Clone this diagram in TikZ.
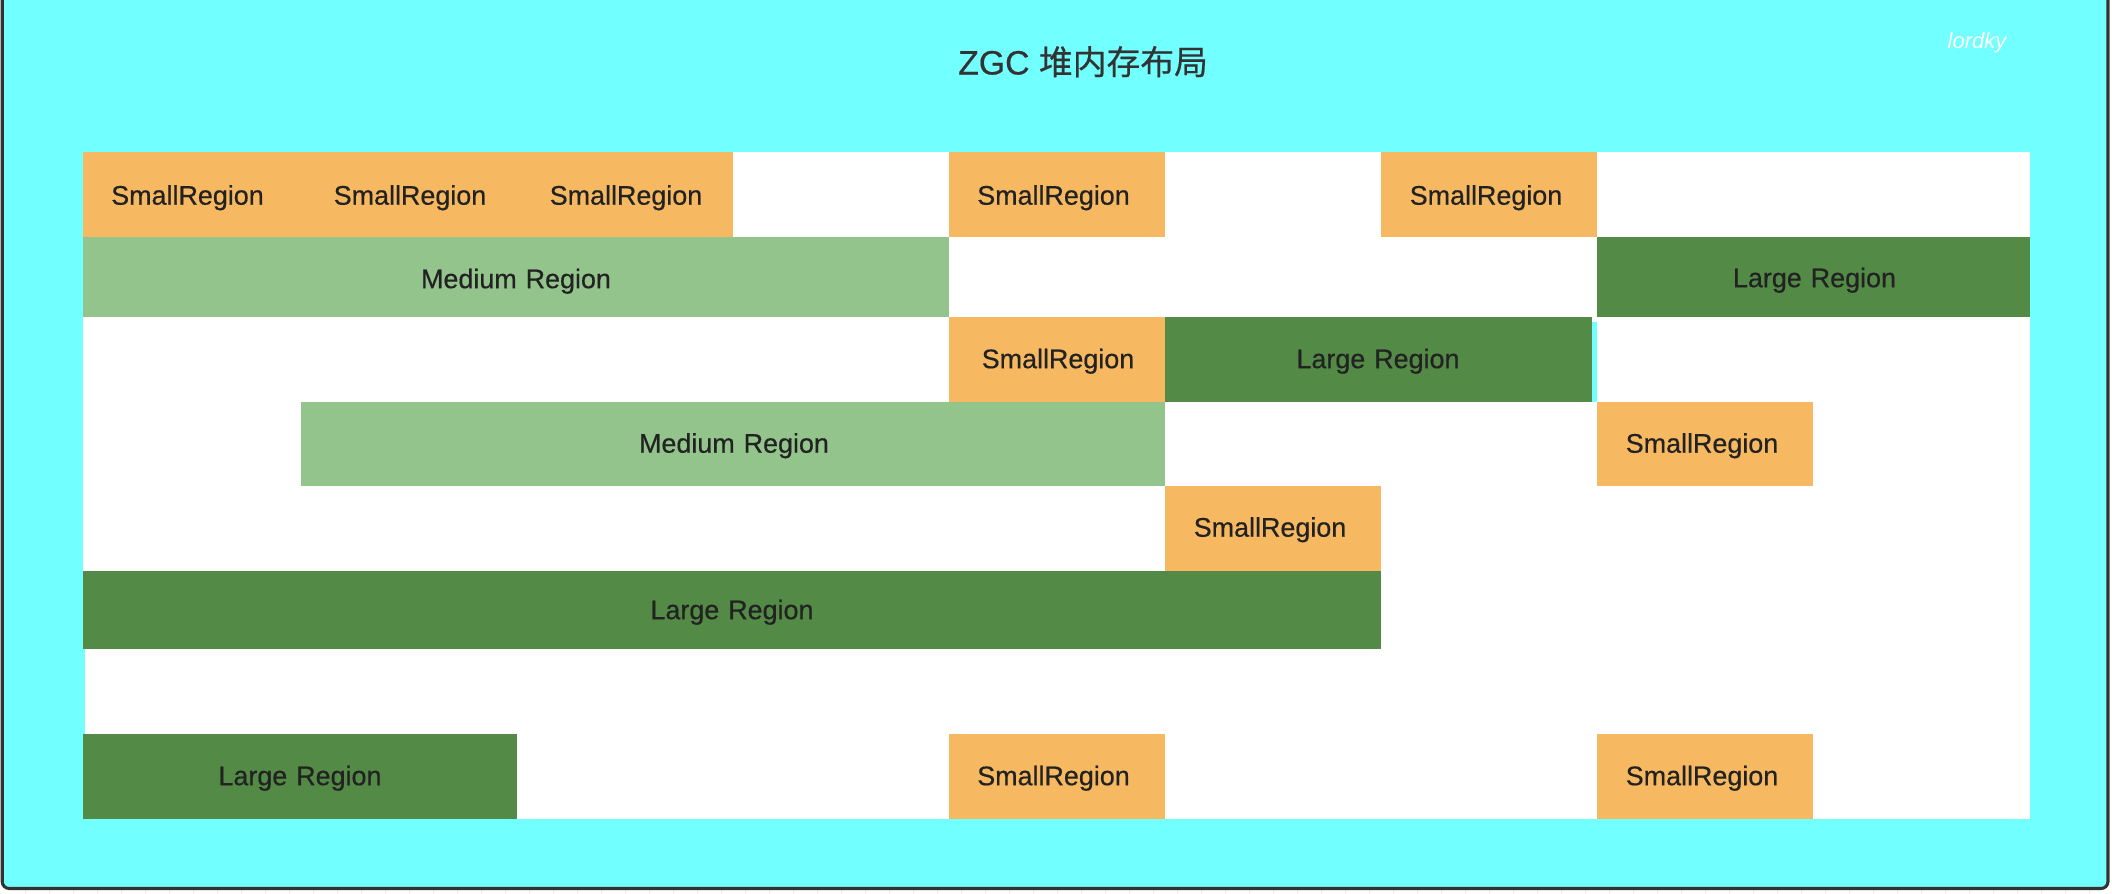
\documentclass[tikz,border=0pt]{standalone}
\usepackage{fontspec}
\setmainfont[FakeBold=0.45,WordSpace=1.2]{Liberation Sans}
\newfontfamily\titlefont[FakeBold=0.5]{Liberation Sans}
\newfontfamily\cjkfont[FakeBold=0.4]{Noto Sans CJK SC}
\newfontfamily\signfont[ItalicFont={* Italic}]{Liberation Sans}
\definecolor{frameblue}{HTML}{72FFFF}
\definecolor{frameline}{HTML}{333333}
\definecolor{smallfill}{HTML}{F6B860}
\definecolor{mediumfill}{HTML}{92C48B}
\definecolor{largefill}{HTML}{528A46}
\definecolor{textdark}{HTML}{222222}
\definecolor{tickgrey}{HTML}{EAEAEA}
\tikzset{
  x=1pt,y=-1pt,
  cell/.style={inner sep=0pt,outer sep=0pt,draw=none},
  smallcell/.style={cell,fill=smallfill},
  mediumcell/.style={cell,fill=mediumfill},
  largecell/.style={cell,fill=largefill},
  celltext/.style={inner sep=0pt,anchor=base,text=textdark,font=\fontsize{26.9}{30}\selectfont},
}
% name, style, x0, y0, x1, y1
\newcommand{\regioncell}[6]{%
  \pgfmathsetlengthmacro{\cw}{(#5-#3)*1pt}%
  \pgfmathsetlengthmacro{\ch}{(#6-#4)*1pt}%
  \node[#2,minimum width=\cw,minimum height=\ch,anchor=north west] (#1) at (#3,#4) {};}
\newcommand{\regionlabel}[4]{\node[celltext] (#1) at (#2,#3) {#4};}
\begin{document}
\begin{tikzpicture}
\useasboundingbox (0,0) rectangle (2112,894);
\fill[white] (0,0) rectangle (2112,894);
% faint grid ticks under the frame
\foreach \gx in {25,49,...,2112}{\draw[tickgrey,line width=1pt] (\gx,888) -- (\gx,894);}
% frame
\draw[fill=frameblue,draw=frameline,line width=3.1pt,rounded corners=7pt] (2.2,-12) rectangle (2108,888.5);
% white field
\fill[white] (83,152.3) rectangle (2030,818.8);
\fill[frameblue] (83,648.6) rectangle (85,733.6);
\fill[frameblue] (1592,322) rectangle (1597,401.5);
% title
\node[inner sep=0pt,anchor=base west,text=frameline,font=\fontsize{33.8}{36}\selectfont] (title) at (958,74.5) {\titlefont ZGC {\cjkfont 堆内存布局}};
\node[inner sep=0pt,anchor=base west,text=white,font=\fontsize{22}{24}\selectfont] (sign) at (1947.5,48) {\signfont\itshape lordky};
% row 1
\regioncell{s1}{smallcell}{83}{152.3}{733}{237.4}
\regionlabel{s1a}{187.5}{204.7}{SmallRegion}
\regionlabel{s1b}{410}{204.7}{SmallRegion}
\regionlabel{s1c}{626}{204.7}{SmallRegion}
\regioncell{s2}{smallcell}{949}{152.3}{1165}{237.4}
\regionlabel{s2a}{1053.5}{204.7}{SmallRegion}
\regioncell{s3}{smallcell}{1381}{152.3}{1597}{237.4}
\regionlabel{s3a}{1486}{204.7}{SmallRegion}
% row 2
\regioncell{m1}{mediumcell}{83}{237.4}{949}{316.5}
\regionlabel{m1a}{516}{288.2}{Medium Region}
\regioncell{l1}{largecell}{1597}{237.4}{2030}{316.5}
\regionlabel{l1a}{1814.5}{287.2}{Large Region}
% row 3
\regioncell{s4}{smallcell}{949}{316.5}{1165}{401.5}
\regionlabel{s4a}{1058}{368.2}{SmallRegion}
\regioncell{l2}{largecell}{1165}{316.5}{1592}{401.5}
\regionlabel{l2a}{1378}{368.2}{Large Region}
% row 4
\regioncell{m2}{mediumcell}{301}{401.5}{1165}{485.6}
\regionlabel{m2a}{734}{452.7}{Medium Region}
\regioncell{s5}{smallcell}{1597}{401.5}{1813}{485.6}
\regionlabel{s5a}{1702}{452.7}{SmallRegion}
% row 5
\regioncell{s6}{smallcell}{1165}{485.6}{1381}{570.6}
\regionlabel{s6a}{1270}{536.7}{SmallRegion}
% row 6
\regioncell{l3}{largecell}{83}{570.6}{1381}{648.6}
\regionlabel{l3a}{732}{619.2}{Large Region}
% row 8
\regioncell{l4}{largecell}{83}{733.6}{517}{818.8}
\regionlabel{l4a}{300}{785.2}{Large Region}
\regioncell{s7}{smallcell}{949}{733.6}{1165}{818.8}
\regionlabel{s7a}{1053.5}{785.2}{SmallRegion}
\regioncell{s8}{smallcell}{1597}{733.6}{1813}{818.8}
\regionlabel{s8a}{1702}{785.2}{SmallRegion}
\end{tikzpicture}
\end{document}
